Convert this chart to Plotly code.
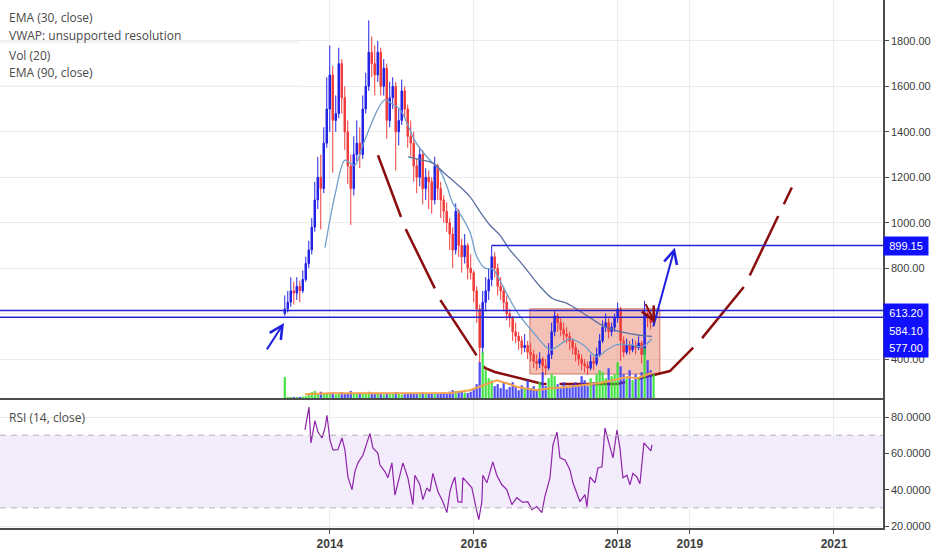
import pandas as pd
import plotly.graph_objects as go

# -- data -----------------------------------------------------------------
# weekly-ish candles (read every ~15 days off the chart)
opens = [600, 620, 650, 700, 690, 720, 700, 750, 820, 880, 980, 1100, 1200, 1150, 1350, 1500,
         1650, 1450, 1480, 1700, 1550, 1400, 1250, 1150, 1300, 1350, 1300, 1500, 1600, 1750, 1700, 1650,
         1750, 1600, 1680, 1450, 1550, 1600, 1400, 1450, 1580, 1500, 1380, 1350, 1250, 1200, 1300, 1150,
         1200, 1180, 1100, 1250, 1150, 1100, 1050, 1000, 950, 880, 1050, 900, 850, 900, 800, 780,
         700, 620, 450, 650, 700, 750, 850, 800, 720, 700, 650, 600, 580, 520, 500, 480,
         450, 460, 430, 420, 390, 380, 400, 370, 360, 420, 520, 590, 560, 530, 510, 500,
         480, 450, 420, 400, 380, 370, 360, 390, 380, 420, 480, 540, 560, 520, 540, 580,
         620, 480, 430, 460, 440, 460, 450, 470, 420, 600, 580, 560]
highs = [680, 700, 760, 740, 760, 745, 790, 850, 920, 1020, 1180, 1290, 1300, 1420, 1640, 1780,
         1690, 1560, 1770, 1720, 1600, 1450, 1300, 1380, 1450, 1420, 1560, 1660, 1890, 1820, 1780, 1800,
         1770, 1720, 1700, 1620, 1640, 1620, 1500, 1630, 1600, 1520, 1450, 1400, 1280, 1330, 1320, 1240,
         1230, 1200, 1290, 1260, 1180, 1120, 1090, 1020, 980, 1085, 1060, 930, 950, 910, 860, 790,
         720, 640, 700, 760, 800, 900, 870, 820, 760, 720, 680, 620, 590, 560, 520, 500,
         510, 480, 470, 440, 420, 430, 410, 400, 470, 560, 612, 600, 580, 560, 540, 520,
         490, 470, 440, 420, 400, 390, 420, 410, 450, 510, 570, 600, 580, 560, 600, 648,
         630, 500, 490, 480, 490, 480, 500, 480, 656, 620, 600, 600]
lows = [590, 605, 630, 640, 660, 650, 690, 740, 800, 860, 960, 1060, 970, 1130, 1330, 1400,
        1220, 1400, 1460, 1480, 1320, 1170, 990, 1120, 1270, 1240, 1280, 1480, 1580, 1640, 1560, 1620,
        1560, 1560, 1370, 1420, 1500, 1230, 1340, 1430, 1460, 1330, 1290, 1180, 1130, 1160, 1080, 1100,
        1060, 1040, 1080, 1100, 1020, 1000, 960, 880, 800, 860, 850, 780, 820, 750, 750, 650,
        560, 378, 420, 610, 660, 720, 760, 680, 660, 610, 570, 540, 480, 470, 440, 420,
        430, 400, 390, 360, 350, 360, 320, 330, 350, 400, 500, 520, 500, 480, 470, 440,
        420, 390, 370, 350, 340, 330, 350, 350, 370, 410, 470, 520, 490, 500, 520, 560,
        392, 410, 420, 420, 430, 420, 440, 380, 400, 540, 530, 550]
closes = [620, 650, 700, 690, 720, 700, 750, 820, 880, 980, 1100, 1200, 1150, 1350, 1500, 1650,
          1450, 1480, 1700, 1550, 1400, 1250, 1150, 1300, 1350, 1300, 1500, 1600, 1750, 1700, 1650, 1750,
          1600, 1680, 1450, 1550, 1600, 1400, 1450, 1580, 1500, 1380, 1350, 1250, 1200, 1300, 1150, 1200,
          1180, 1100, 1250, 1150, 1100, 1050, 1000, 950, 880, 1050, 900, 850, 900, 800, 780, 700,
          620, 450, 650, 700, 750, 850, 800, 720, 700, 650, 600, 580, 520, 500, 480, 450,
          460, 430, 420, 390, 380, 400, 370, 360, 420, 520, 590, 560, 530, 510, 500, 480,
          450, 420, 400, 380, 370, 360, 390, 380, 420, 480, 540, 560, 520, 540, 580, 620,
          480, 430, 460, 440, 460, 450, 470, 420, 600, 580, 560, 577]
volumes = [5.3, 0.3, 0.2, 0.3, 0.2, 0.3, 0.4, 0.5, 1.2, 1.5, 1.8, 1.2, 1.6, 1.0, 1.3, 1.1,
           1.4, 0.9, 1.2, 1.5, 1.0, 1.3, 1.8, 1.2, 1.0, 1.4, 1.1, 1.3, 1.6, 1.2, 1.0, 1.1,
           1.3, 0.9, 1.2, 1.0, 1.1, 1.5, 1.2, 0.9, 1.0, 1.1, 1.3, 1.2, 1.0, 1.1, 1.4, 1.0,
           1.2, 1.1, 1.3, 1.0, 1.2, 1.4, 1.3, 1.6, 2.0, 1.8, 1.5, 1.7, 1.4, 1.3, 1.6, 2.2,
           3.5, 9.0, 11.5, 7.0, 5.0, 4.5, 3.0, 3.5, 2.5, 3.8, 2.2, 2.8, 4.0, 3.0, 2.0, 3.2,
           2.4, 4.5, 2.5, 3.0, 2.2, 4.0, 6.5, 3.0, 5.0, 6.0, 5.5, 3.5, 2.5, 4.0, 3.0, 2.6,
           3.5, 4.0, 3.0, 5.5, 4.5, 3.0, 5.0, 4.0, 6.0, 7.0, 6.5, 5.0, 7.5, 5.5, 6.0, 9.0,
           8.0, 6.0, 5.0, 7.0, 4.5, 6.0, 5.0, 6.5, 12.5, 9.5, 7.0, 6.0]

# indicator lines, time as decimal years
ema30_t = [2013.931, 2014.069, 2014.208, 2014.278, 2014.347, 2014.444, 2014.556, 2014.667, 2014.764,
           2014.875, 2014.972, 2015.069, 2015.181, 2015.319, 2015.431, 2015.528, 2015.625, 2015.708,
           2015.806, 2015.944, 2016.042, 2016.153, 2016.264, 2016.403, 2016.597, 2016.819, 2017.056,
           2017.153, 2017.333, 2017.514, 2017.708, 2017.847, 2017.986, 2018.167, 2018.333, 2018.472]
ema30_v = [890, 1120, 1275, 1262, 1253, 1330, 1420, 1500, 1540, 1520, 1500, 1440, 1360, 1300, 1262,
           1230, 1160, 1085, 1040, 960, 850, 800, 795, 720, 609, 520, 441, 454, 489, 463, 410, 441,
           463, 463, 454, 489]
ema90_t = [2015.083, 2015.250, 2015.431, 2015.597, 2015.764, 2015.944, 2016.083, 2016.222, 2016.361,
           2016.500, 2016.639, 2016.778, 2016.917, 2017.097, 2017.292, 2017.472, 2017.611, 2017.792,
           2017.986, 2018.167, 2018.375, 2018.472]
ema90_v = [1290, 1278, 1262, 1215, 1170, 1115, 1050, 990, 945, 880, 830, 775, 720, 665, 645, 610,
           582, 546, 524, 512, 502, 500]
volma_t = [2013.653, 2014.0, 2014.694, 2015.389, 2015.667, 2015.944, 2016.125, 2016.319, 2016.5,
           2016.597, 2016.875, 2017.056, 2017.292, 2017.514, 2017.75, 2017.931, 2018.125, 2018.264,
           2018.472]
volma_v = [1.0, 1.2, 1.2, 1.2, 1.3, 2.0, 3.2, 4.5, 3.5, 2.8, 2.0, 2.5, 2.8, 3.2, 3.8, 4.5, 5.3, 5.0, 6.3]

rsi_t = [2013.653, 2013.708, 2013.736, 2013.792, 2013.833, 2013.889, 2013.931, 2013.958, 2014.000,
         2014.042, 2014.111, 2014.167, 2014.208, 2014.250, 2014.306, 2014.347, 2014.389, 2014.458,
         2014.556, 2014.597, 2014.667, 2014.694, 2014.764, 2014.806, 2014.861, 2014.903, 2014.972,
         2015.014, 2015.083, 2015.153, 2015.181, 2015.250, 2015.292, 2015.347, 2015.389, 2015.431,
         2015.500, 2015.569, 2015.625, 2015.667, 2015.694, 2015.736, 2015.778, 2015.833, 2015.847,
         2015.903, 2015.972, 2016.042, 2016.069, 2016.111, 2016.125, 2016.181, 2016.222, 2016.264,
         2016.319, 2016.389, 2016.458, 2016.528, 2016.597, 2016.681, 2016.750, 2016.806, 2016.875,
         2016.944, 2016.986, 2017.056, 2017.097, 2017.153, 2017.194, 2017.264, 2017.333, 2017.375,
         2017.472, 2017.542, 2017.569, 2017.611, 2017.681, 2017.722, 2017.778, 2017.819, 2017.889,
         2017.931, 2017.986, 2018.028, 2018.069, 2018.125, 2018.167, 2018.208, 2018.264, 2018.306,
         2018.361, 2018.417, 2018.458, 2018.472]
rsi_v = [72.9, 85.5, 65.8, 78, 71.8, 68.5, 74, 81, 67.4, 61.9, 62, 68.5, 62, 47, 40, 50, 54.8, 59,
         71, 63, 60, 53.7, 50, 46.6, 54.8, 37, 48, 54.8, 46.6, 31.8, 48, 42.7, 34.5, 41, 39, 49,
         39, 33.4, 27.4, 39, 42.7, 47, 33.4, 33, 46.6, 43.8, 41, 28, 23.5, 33.4, 48, 43.8, 49, 55.3,
         48, 42.7, 40, 31.8, 35.6, 33, 33.4, 29, 30.7, 27.4, 36, 46.6, 64.7, 71.8, 57.5, 56.4, 51, 43.8,
         33.4, 37.3, 30.7, 47, 43.8, 52, 52.6, 74, 63.6, 57.5, 72.9, 63, 46.6, 48, 42.7, 49, 47, 43.3,
         65.8, 63.6, 61.4, 64.7]

# drawings
curve_t = [2014.667, 2015.042, 2015.542, 2016.153, 2016.292, 2016.958, 2017.986, 2018.722,
           2019.139, 2019.764, 2020.417]
curve_p = [1297, 979, 656, 361, 343, 290, 290, 347, 480, 723, 1155]
level_lines = [613.20, 584.10]
target_level = 899.15
last_price = 577.00
box_t = [2016.778, 2018.583]
box_p = [334, 621]

price_ticks = [400, 600, 800, 1000, 1200, 1400, 1600, 1800]
rsi_ticks = [20, 40, 60, 80]
year_ticks = ["2014-01-01", "2016-01-01", "2018-01-01", "2019-01-01", "2021-01-01"]
year_labels = ["2014", "2016", "2018", "2019", "2021"]

GRID = "#ececec"
AXIS = "#4d4d4d"
UP, DOWN = "#2323e6", "#f03c3c"
LABEL_BLUE = "#1010ff"


def to_date(t):
    y = int(t)
    return pd.Timestamp(year=y, month=1, day=1) + pd.Timedelta(days=(t - y) * 365.25)


dates = pd.date_range("2013-05-17", "2018-07-01", periods=len(closes))
vol_colors = ["#33e033" if c >= o else "#3b3bf2" for o, c in zip(opens, closes)]

fig = go.Figure()
fig.add_trace(go.Bar(x=dates, y=volumes, marker_color=vol_colors, marker_line_width=0,
                     xaxis="x", yaxis="y2", opacity=0.9))
fig.add_trace(go.Scatter(x=[to_date(t) for t in volma_t], y=volma_v, mode="lines",
                         line=dict(color="#f5a04a", width=2), xaxis="x", yaxis="y2"))
fig.add_trace(go.Candlestick(x=dates, open=opens, high=highs, low=lows, close=closes,
                             increasing=dict(line=dict(color=UP, width=1), fillcolor=UP),
                             decreasing=dict(line=dict(color=DOWN, width=1), fillcolor=DOWN),
                             xaxis="x", yaxis="y"))
fig.add_trace(go.Scatter(x=[to_date(t) for t in ema30_t], y=ema30_v, mode="lines",
                         line=dict(color="#6e9fcb", width=1.3, shape="spline"), xaxis="x", yaxis="y"))
fig.add_trace(go.Scatter(x=[to_date(t) for t in ema90_t], y=ema90_v, mode="lines",
                         line=dict(color="#5b6ea3", width=1.3, shape="spline"), xaxis="x", yaxis="y"))
fig.add_trace(go.Scatter(x=[to_date(t) for t in curve_t], y=curve_p, mode="lines",
                         line=dict(color="#8b0d0d", width=2.5, dash="66px,13px"), xaxis="x", yaxis="y"))
fig.add_trace(go.Scatter(x=[to_date(t) for t in rsi_t], y=rsi_v, mode="lines",
                         line=dict(color="#8e24aa", width=1.2), xaxis="x2", yaxis="y3"))

shapes = [
    dict(type="rect", xref="x", yref="y", x0=to_date(box_t[0]), x1=to_date(box_t[1]),
         y0=box_p[0], y1=box_p[1], fillcolor="rgba(228,118,90,0.45)",
         line=dict(color="rgba(205,95,70,0.8)", width=1), layer="between"),
    dict(type="rect", xref="x2 domain", yref="y3", x0=0, x1=1, y0=30, y1=70,
         fillcolor="rgba(150,80,230,0.11)", line_width=0, layer="below"),
    dict(type="line", xref="x2 domain", yref="y3", x0=0, x1=1, y0=70, y1=70,
         line=dict(color="#b5b5b5", width=1, dash="6px,5px")),
    dict(type="line", xref="x2 domain", yref="y3", x0=0, x1=1, y0=30, y1=30,
         line=dict(color="#b5b5b5", width=1, dash="6px,5px")),
    dict(type="line", xref="x", yref="y", x0=to_date(2016.25), x1=to_date(2021.9),
         y0=target_level, y1=target_level, line=dict(color="#2424d6", width=1.5)),
    dict(type="line", xref="paper", yref="paper", x0=0, x1=0.34, y0=0.92, y1=0.92,
         line=dict(color="#ececec", width=1)),
    dict(type="line", xref="paper", yref="paper", x0=0, x1=0.34, y0=0.837, y1=0.837,
         line=dict(color="#ececec", width=1)),
]
for lv in level_lines:
    shapes.append(dict(type="line", xref="x domain", yref="y", x0=0, x1=1, y0=lv, y1=lv,
                       line=dict(color="#2424d6", width=1.5)))

legend_font = dict(family="Open Sans", size=12, color="#4a4a4a")
annotations = []
for txt, yy in [("EMA (30, close)", 0.966), ("VWAP: unsupported resolution", 0.932),
                ("Vol (20)", 0.894), ("EMA (90, close)", 0.862), ("RSI (14, close)", 0.209)]:
    annotations.append(dict(text=txt, xref="paper", yref="paper", x=0.008, y=yy, xanchor="left",
                            yanchor="middle", showarrow=False, font=legend_font))

label_font = dict(family="Liberation Sans", size=11, color="white")
for val, shift in [(target_level, 0), (level_lines[0], -2), (level_lines[1], -14), (last_price, -29)]:
    annotations.append(dict(text=f"{val:.2f}", xref="paper", yref="y", x=1.0, y=val, yshift=shift,
                            xanchor="left", yanchor="middle", showarrow=False, bgcolor=LABEL_BLUE,
                            font=label_font, width=40, height=14, borderpad=2, align="center"))

# hand-drawn arrows
arrows = [
    (2013.111, 436, 2013.361, 559, "#1f1fe0"),
    (2018.486, 537, 2018.790, 890, "#1f1fe0"),
    (2018.375, 648, 2018.514, 559, "#8b0d0d"),
]
for t0, p0, t1, p1, col in arrows:
    annotations.append(dict(xref="x", yref="y", axref="x", ayref="y", x=to_date(t1), y=p1,
                            ax=to_date(t0), ay=p0, showarrow=True, arrowhead=5, arrowsize=1.3,
                            arrowwidth=2, arrowcolor=col, standoff=0, text=""))

tick_font = dict(family="Liberation Sans", size=11, color="#3d3d3d")
fig.update_layout(
    width=932, height=550,
    margin=dict(l=0, r=49, t=0, b=22),
    paper_bgcolor="white", plot_bgcolor="white",
    showlegend=False,
    xaxis=dict(domain=[0, 1], anchor="y", type="date", range=[to_date(2009.417), to_date(2021.681)],
               tickvals=year_ticks, showticklabels=False, showgrid=True, gridcolor=GRID,
               showline=True, linecolor=AXIS, linewidth=2, zeroline=False,
               rangeslider=dict(visible=False)),
    yaxis=dict(domain=[0.246, 1], anchor="x", side="right", range=[228, 1980],
               tickvals=price_ticks, ticktext=[f"{v:.2f}" for v in price_ticks],
               ticks="outside", ticklen=4, tickcolor=AXIS, tickfont=tick_font,
               showgrid=True, gridcolor=GRID, showline=True, linecolor=AXIS, linewidth=1.5,
               zeroline=False),
    yaxis2=dict(overlaying="y", anchor="x", range=[0, 100], visible=False),
    xaxis2=dict(domain=[0, 1], anchor="y3", matches="x", type="date",
                tickvals=year_ticks, ticktext=year_labels, ticks="outside", ticklen=4,
                tickcolor=AXIS, tickfont=dict(family="Liberation Sans", size=12, color="#3d3d3d",
                                              weight="bold"),
                showgrid=True, gridcolor=GRID, showline=True, linecolor=AXIS, linewidth=1.5,
                zeroline=False),
    yaxis3=dict(domain=[0, 0.2424], anchor="x2", side="right", range=[18.9, 89.4],
                tickvals=rsi_ticks, ticktext=[f"{v:.4f}" for v in rsi_ticks],
                ticks="outside", ticklen=4, tickcolor=AXIS, tickfont=tick_font,
                showgrid=True, gridcolor=GRID, showline=True, linecolor=AXIS, linewidth=1.5,
                zeroline=False),
    shapes=shapes,
    annotations=annotations,
    bargap=0.25,
)

# page body has a default 8px margin; drop it so the 932x550 figure fills the window
fig.write_html("out.html", config={"displayModeBar": False},
               post_script="document.body.style.margin='0px';")
